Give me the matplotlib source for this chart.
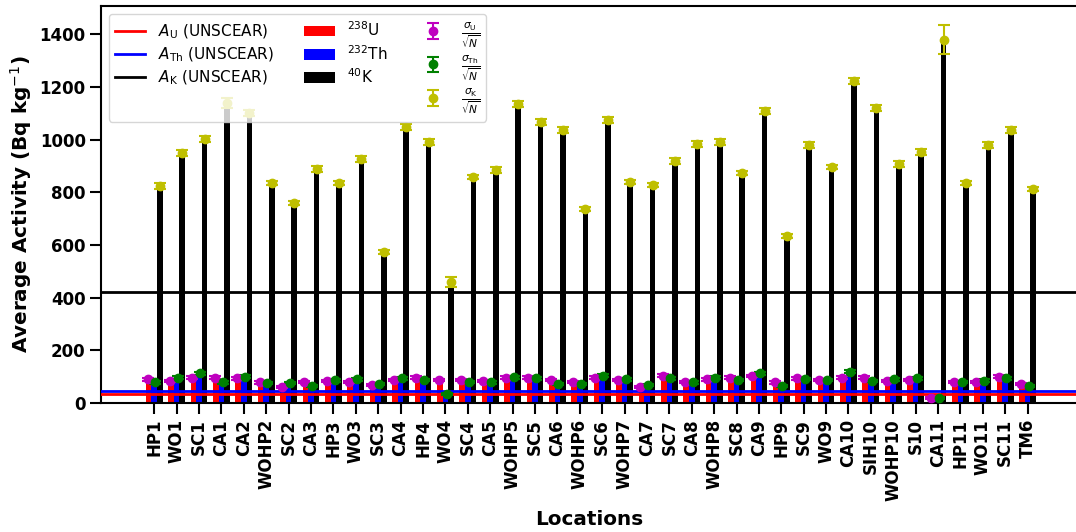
import numpy as np
import matplotlib
matplotlib.use("Agg")
import matplotlib.pyplot as plt

locations = ["HP1", "WO1", "SC1", "CA1", "CA2", "WOHP2", "SC2", "CA3", "HP3", "WO3",
             "SC3", "CA4", "HP4", "WO4", "SC4", "CA5", "WOHP5", "SC5", "CA6", "WOHP6",
             "SC6", "WOHP7", "CA7", "SC7", "CA8", "WOHP8", "SC8", "CA9", "HP9", "SC9",
             "WO9", "CA10", "SIH10", "WOHP10", "S10", "CA11", "HP11", "WO11", "SC11", "TM6"]

A_U = [90, 85, 96, 96, 94, 78, 62, 81, 85, 81,
       68, 87, 96, 87, 87, 84, 96, 96, 87, 81,
       96, 87, 62, 104, 81, 90, 96, 103, 78, 94,
       87, 96, 96, 84, 87, 18, 81, 81, 100, 71]
A_Th = [78, 96, 113, 78, 100, 77, 75, 65, 86, 90,
        71, 94, 87, 33, 81, 78, 97, 94, 73, 73,
        104, 90, 68, 94, 78, 96, 87, 113, 66, 91,
        87, 119, 84, 90, 94, 20, 81, 85, 94, 65]
A_K = [824, 950, 1003, 1139, 1101, 836, 760, 889, 836, 927,
       573, 1048, 991, 460, 858, 885, 1136, 1067, 1037, 737,
       1075, 839, 828, 919, 984, 991, 874, 1109, 634, 980,
       896, 1223, 1120, 908, 953, 1379, 836, 980, 1037, 813]

err_U = [5, 4, 5, 5, 5, 4, 4, 4, 4, 4,
         4, 4, 5, 5, 4, 4, 5, 5, 4, 4,
         5, 4, 4, 5, 4, 5, 5, 5, 4, 5,
         4, 5, 5, 4, 4, 3, 4, 4, 5, 4]
err_Th = [5, 5, 6, 5, 6, 4, 4, 4, 5, 5,
          4, 5, 5, 4, 4, 4, 5, 5, 4, 4,
          6, 5, 4, 5, 4, 5, 5, 6, 4, 5,
          5, 6, 5, 5, 5, 3, 4, 5, 5, 4]
err_K = [10, 10, 11, 18, 12, 9, 9, 10, 9, 10,
         8, 11, 10, 20, 9, 10, 12, 11, 11, 8,
         11, 9, 9, 10, 10, 10, 9, 11, 8, 10,
         9, 12, 12, 10, 10, 55, 9, 10, 11, 9]

UNSCEAR_U = 33
UNSCEAR_Th = 45
UNSCEAR_K = 420

x = np.arange(len(locations))
w = 0.25

fig = plt.figure(figsize=(10.76, 5.32), dpi=100)
ax = fig.add_axes([101 / 1076, 129 / 532, 977 / 1076, 397 / 532])

ax.bar(x - w, A_U, w, color="red", label=r"$^{238}$U", zorder=2)
ax.bar(x, A_Th, w, color="blue", label=r"$^{232}$Th", zorder=2)
ax.bar(x + w, A_K, w, color="black", label=r"$^{40}$K", zorder=2)

ax.axhline(UNSCEAR_U, color="red", lw=2, label=r"$A_{\mathrm{U}}$ (UNSCEAR)", zorder=3)
ax.axhline(UNSCEAR_Th, color="blue", lw=2, label=r"$A_{\mathrm{Th}}$ (UNSCEAR)", zorder=3)
ax.axhline(UNSCEAR_K, color="black", lw=2, label=r"$A_{\mathrm{K}}$ (UNSCEAR)", zorder=3)

lab_su = r"$\frac{\sigma_{\mathrm{U}}}{\sqrt{N}}$"
lab_sth = r"$\frac{\sigma_{\mathrm{Th}}}{\sqrt{N}}$"
lab_sk = r"$\frac{\sigma_{\mathrm{K}}}{\sqrt{N}}$"

ax.errorbar(x - 0.3, A_U, yerr=err_U, fmt="o", color="m", ms=6, capsize=4,
            elinewidth=1.5, capthick=1.5, zorder=4, label=lab_su)
ax.errorbar(x + 0.05, A_Th, yerr=err_Th, fmt="o", color="g", ms=6, capsize=4,
            elinewidth=1.5, capthick=1.5, zorder=4, label=lab_sth)
ax.errorbar(x + w, A_K, yerr=err_K, fmt="o", color="y", ms=6, capsize=4,
            elinewidth=1.5, capthick=1.5, zorder=4, label=lab_sk)

handles, labels = ax.get_legend_handles_labels()
wanted = [r"$A_{\mathrm{U}}$ (UNSCEAR)", r"$A_{\mathrm{Th}}$ (UNSCEAR)",
          r"$A_{\mathrm{K}}$ (UNSCEAR)", r"$^{238}$U", r"$^{232}$Th", r"$^{40}$K",
          lab_su, lab_sth, lab_sk]
order = [labels.index(l) for l in wanted]
ax.legend([handles[i] for i in order], [labels[i] for i in order], ncol=3,
          loc="upper left", fontsize=11, columnspacing=2.0, labelspacing=0.3)

ax.set_xlim(-2.38, 41.25)
ax.set_ylim(0, 1508)
ax.set_xticks(x)
ax.set_xticklabels(locations, rotation=90, fontsize=12, fontweight="bold")
for lab in ax.get_yticklabels():
    lab.set_fontweight("bold")
ax.tick_params(axis="y", labelsize=12, width=1.5, length=8, pad=3)
ax.tick_params(axis="x", width=1.5, length=8, pad=3.5)
for s in ax.spines.values():
    s.set_linewidth(1.5)
ax.set_xlabel("Locations", fontsize=14.4, fontweight="bold", labelpad=7)
ax.set_ylabel(r"Average Activity (Bq kg$^{-1}$)", fontsize=14.4, fontweight="bold")

fig.savefig("out.png", dpi=100)
